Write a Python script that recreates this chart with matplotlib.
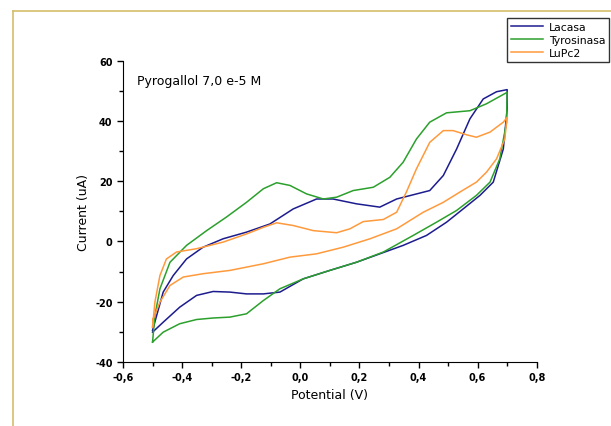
import matplotlib
matplotlib.use("Agg")
import matplotlib.pyplot as plt
from matplotlib.lines import Line2D
from matplotlib.ticker import MultipleLocator, FuncFormatter

# Lacasa (anodic sweep then cathodic sweep back)
lac_v = [-0.500, -0.464, -0.430, -0.385, -0.329, -0.261, -0.182, -0.103, -0.024, 0.055, 0.111,
         0.190, 0.269, 0.326, 0.382, 0.438, 0.484, 0.529, 0.574, 0.619, 0.664, 0.700,
         0.700, 0.687, 0.653, 0.608, 0.551, 0.495, 0.427, 0.348, 0.269, 0.190, 0.100,
         0.010, -0.069, -0.125, -0.182, -0.238, -0.295, -0.351, -0.408, -0.464, -0.500]
lac_i = [-29.5, -16.8, -11.3, -5.8, -1.9, 0.9, 3.1, 5.8, 10.8, 14.1, 14.1,
         12.5, 11.4, 14.1, 15.5, 16.9, 21.9, 30.7, 40.7, 47.3, 49.7, 50.4,
         44.0, 30.7, 19.7, 15.3, 10.8, 6.4, 2.0, -1.3, -4.1, -6.9, -9.6,
         -12.4, -16.8, -17.4, -17.4, -16.8, -16.6, -17.9, -21.8, -26.8, -30.1]

# Tyrosinasa
tyr_v = [-0.500, -0.492, -0.475, -0.441, -0.385, -0.317, -0.250, -0.182, -0.125, -0.080, -0.035,
         0.021, 0.078, 0.123, 0.179, 0.247, 0.303, 0.348, 0.393, 0.438, 0.495, 0.574, 0.630, 0.700,
         0.698, 0.675, 0.642, 0.596, 0.529, 0.461, 0.382, 0.281, 0.190, 0.100, 0.010,
         -0.069, -0.125, -0.182, -0.238, -0.295, -0.351, -0.408, -0.464, -0.500]
tyr_i = [-33.4, -24.6, -15.7, -6.9, -1.3, 3.6, 8.1, 13.0, 17.5, 19.5, 18.6,
         15.8, 14.1, 14.7, 16.9, 18.0, 21.3, 26.3, 34.0, 39.6, 42.7, 43.4, 45.7, 49.5,
         39.6, 27.4, 19.7, 15.3, 10.3, 6.4, 2.0, -3.5, -6.9, -9.6, -12.4,
         -15.7, -19.6, -24.0, -25.1, -25.4, -25.9, -27.3, -30.1, -33.4]

# LuPc2
lu_v = [-0.500, -0.492, -0.475, -0.453, -0.419, -0.351, -0.261, -0.182, -0.125, -0.080, -0.024,
        0.044, 0.123, 0.168, 0.213, 0.281, 0.326, 0.359, 0.393, 0.438, 0.484, 0.517, 0.563,
        0.596, 0.642, 0.687, 0.700,
        0.692, 0.664, 0.630, 0.596, 0.540, 0.484, 0.416, 0.326, 0.236, 0.145, 0.055,
        -0.035, -0.125, -0.238, -0.329, -0.396, -0.441, -0.475, -0.498, -0.500]
lu_i = [-28.4, -20.1, -11.3, -5.8, -3.5, -2.4, -0.2, 2.5, 4.7, 6.2, 5.3,
        3.6, 2.9, 4.2, 6.6, 7.3, 9.7, 16.4, 24.1, 32.9, 36.8, 36.8, 35.4,
        34.6, 36.3, 39.6, 41.2,
        34.0, 27.4, 23.0, 19.7, 16.4, 13.0, 9.7, 4.2, 0.9, -1.9, -4.1,
        -5.2, -7.4, -9.6, -10.7, -11.8, -14.6, -20.1, -25.7, -28.4]

fig = plt.figure(figsize=(6.11, 4.27), dpi=100)
ax = fig.add_axes([0.2013, 0.1499, 0.6771, 0.7056])

ax.plot(lac_v, lac_i, color='#1c1c8f', lw=1.1, label='Lacasa')
ax.plot(tyr_v, tyr_i, color='#2ca02c', lw=1.1, label='Tyrosinasa')
ax.plot(lu_v, lu_i, color='#ff9a3c', lw=1.1, label='LuPc2')

ax.set_xlim(-0.6, 0.8)
ax.set_ylim(-40, 60)
ax.xaxis.set_major_locator(MultipleLocator(0.2))
ax.xaxis.set_minor_locator(MultipleLocator(0.1))
ax.yaxis.set_major_locator(MultipleLocator(20))
ax.yaxis.set_minor_locator(MultipleLocator(10))
ax.xaxis.set_major_formatter(FuncFormatter(lambda v, p: f'{v:.1f}'.replace('.', ',')))
ax.yaxis.set_major_formatter(FuncFormatter(lambda v, p: f'{v:.0f}'))

for s in ['top', 'right']:
    ax.spines[s].set_visible(False)
ax.tick_params(which='both', direction='out', labelsize=7, width=1)
ax.tick_params(which='major', length=4)
ax.tick_params(which='minor', length=3)
for lbl in ax.get_xticklabels() + ax.get_yticklabels():
    lbl.set_fontweight('bold')

ax.set_xlabel('Potential (V)', fontsize=9)
ax.set_ylabel('Current (uA)', fontsize=9)
ax.text(0.035, 0.955, 'Pyrogallol 7,0 e-5 M', transform=ax.transAxes, fontsize=9, va='top')

leg = fig.legend(loc='upper right', bbox_to_anchor=(0.997, 0.956), borderaxespad=0,
                 fontsize=7.8, frameon=True, fancybox=False, edgecolor='black',
                 handlelength=3.0, borderpad=0.35, labelspacing=0.3, handletextpad=0.5)
leg.get_frame().set_linewidth(1.0)

# tan page border
fig.add_artist(Line2D([0.021, 1.0], [0.972, 0.972], color='#d4bd6a', lw=1.2, transform=fig.transFigure))
fig.add_artist(Line2D([0.021, 0.021], [0.0, 0.972], color='#d4bd6a', lw=1.2, transform=fig.transFigure))

fig.savefig('out.png', dpi=100)
